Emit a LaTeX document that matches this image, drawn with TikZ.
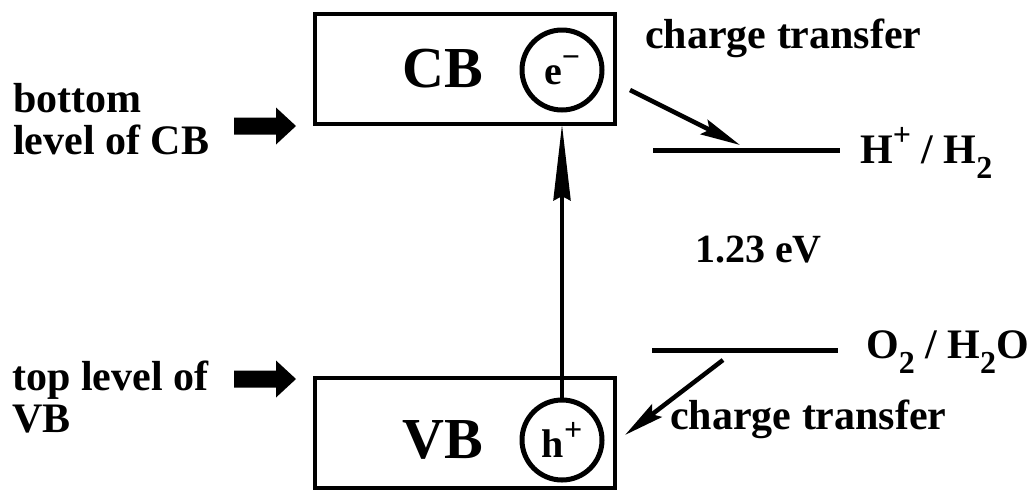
\documentclass[tikz,border=0pt]{standalone}
\usepackage{fontspec}
\setmainfont{Liberation Serif}
\usetikzlibrary{positioning, arrows.meta, calc}

\newcommand{\upidx}[1]{\raisebox{0.42em}{\fontsize{32}{32}\selectfont #1}}
\newcommand{\dnidx}[1]{\raisebox{-0.38em}{\fontsize{32}{32}\selectfont #1}}

\tikzset{
    bandbox/.style={draw, line width=4.5pt, minimum width=300pt, minimum height=110pt, inner sep=0pt},
    carrier/.style={draw, circle, line width=5pt, minimum size=80pt, inner sep=0pt,
        font=\fontsize{40}{40}\selectfont\bfseries},
    bandname/.style={inner sep=0pt, anchor=base, font=\fontsize{58}{58}\selectfont\bfseries},
    lbl/.style={inner sep=0pt, anchor=base west, font=\fontsize{42}{42}\selectfont\bfseries},
    level/.style={line width=5pt},
    transfer/.style={line width=4.5pt, -{Stealth[length=40pt, width=16pt, inset=6pt]}},
}

\begin{document}
\begin{tikzpicture}[x=1pt, y=-1pt]
    \useasboundingbox (0,0) rectangle (1030,491);
    % --- bands ---
    \node[bandbox] (cb) at (465,69) {};
    \node[bandbox] (vb) at (465,433) {};
    \node[bandname] (cbname) at (443,87) {CB};
    \node[bandname] (vbname) at (443,458) {VB};
    \node[carrier] (e) at (562,70) {e\upidx{−}};
    \node[carrier] (h) at (562,440) {h\upidx{+}};
    % --- excitation ---
    \draw[line width=4pt, shorten >=-2pt, -{Stealth[length=76pt, width=17pt, inset=4pt]}]
        (h.north) -- (h.north |- cb.south);
    % --- left labels ---
    \node[lbl, align=left] (lcb) at (13,154) {bottom\\level of CB};
    \node[lbl, align=left] (lvb) at (12,432) {top level of\\VB};
    \foreach \ay in {126,379} {
        \fill (234,\ay-8.5) -- (276,\ay-8.5) -- (276,\ay-18.5) -- (296,\ay)
            -- (276,\ay+18.5) -- (276,\ay+8.5) -- (234,\ay+8.5) -- cycle;
    }
    % --- redox levels ---
    \coordinate (hA) at (653,150);
    \coordinate (hB) at (840,150);
    \coordinate (oA) at (652,350);
    \coordinate (oB) at (838,350);
    \draw[level] (hA) -- (hB);
    \draw[level] (oA) -- (oB);
    \node[lbl] (hlbl) at (860,163) {H\upidx{+} / H\dnidx{2}};
    \node[lbl] (olbl) at (866,358) {O\dnidx{2} / H\dnidx{2}O};
    \node[lbl, font=\fontsize{40}{40}\selectfont\bfseries] (gap) at (695,262) {1.23 eV};
    % --- charge transfer ---
    \node[lbl] (ctop) at (645,48) {charge transfer};
    \node[lbl] (cbot) at (670,429) {charge transfer};
    \coordinate (t1) at (630,90);
    \coordinate (t2) at (740,145);
    \coordinate (b1) at (723,360);
    \coordinate (b2) at (625,435);
    \draw[transfer] (t1) -- (t2);
    \draw[transfer] (b1) -- (b2);
\end{tikzpicture}
\end{document}
